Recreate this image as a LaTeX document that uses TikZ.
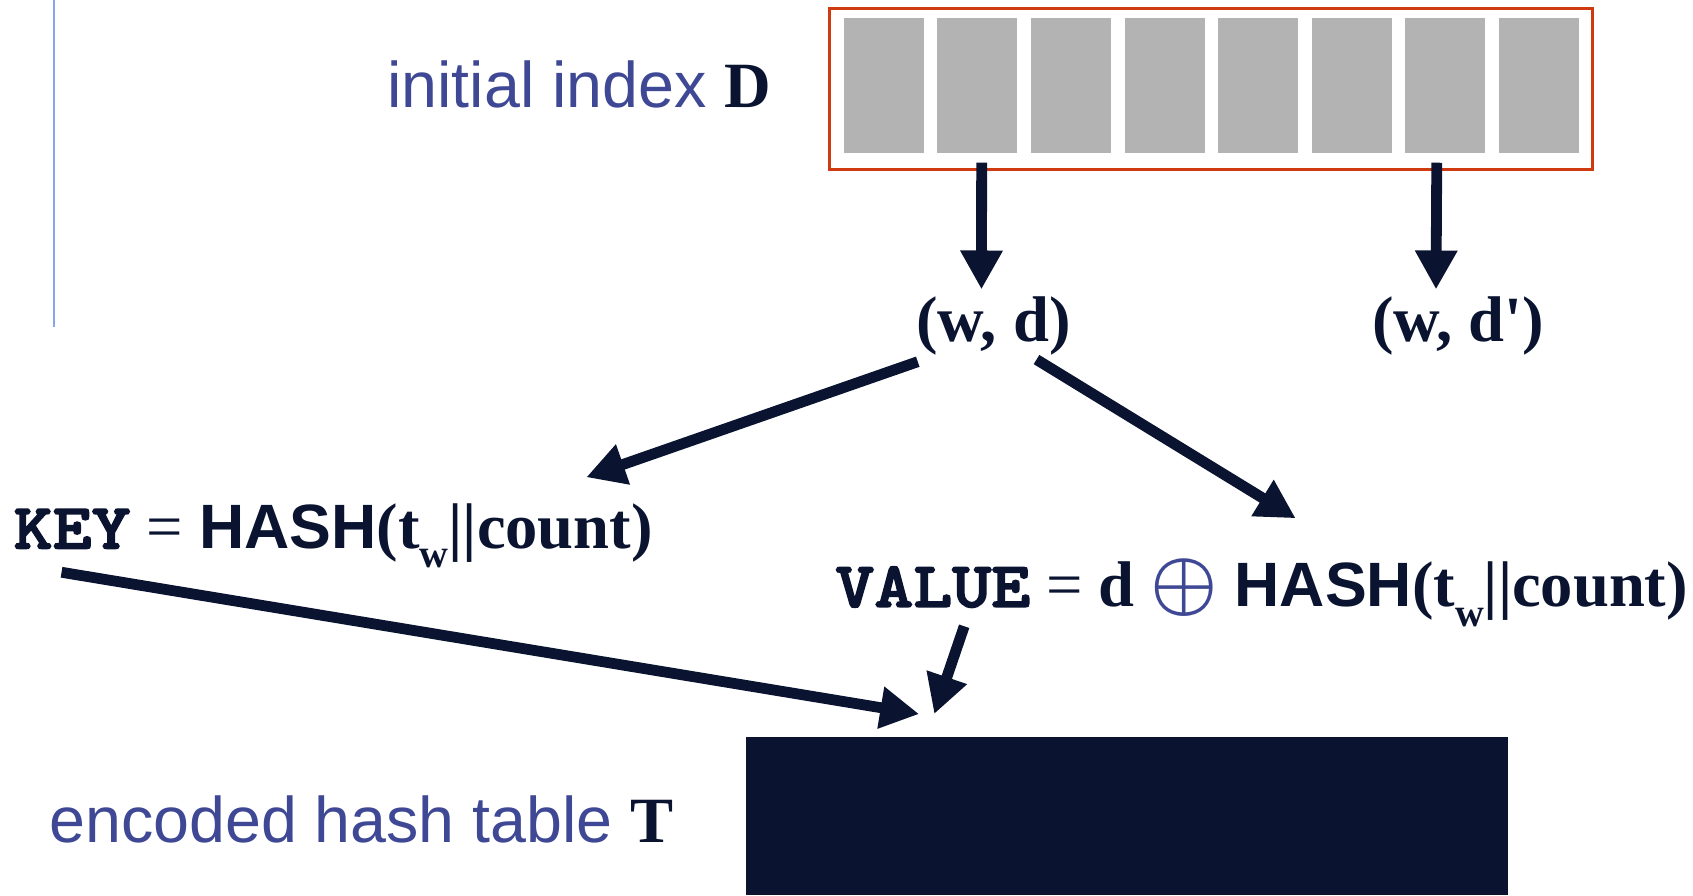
\documentclass[tikz,border=0pt]{standalone}
\usepackage{fontspec}
\setmainfont{Liberation Serif}
\setsansfont{Liberation Sans}
\setmonofont{Liberation Mono}
\newfontfamily\keyfont{lmmonolt10-bold.otf}[FakeStretch=1.15,FakeBold=2.5]
\usetikzlibrary{arrows.meta,calc}
\definecolor{navy}{HTML}{0A1430}
\definecolor{labelblue}{HTML}{3F4894}
\definecolor{framered}{HTML}{D03A10}
\definecolor{barGray}{HTML}{B3B3B3}
\definecolor{railblue}{HTML}{85A5F0}
\newcommand{\subw}{\raisebox{-0.3em}{\fontsize{10.5}{10.5}\selectfont\bfseries w}}
\newcommand{\xorsym}{\textcolor{labelblue}{\scalebox{1.15}{\boldmath$\oplus$}}}
\newcommand{\hashtxt}{{\fontsize{16.5}{20}\selectfont\sffamily\bfseries HASH}}
\begin{document}
\begin{tikzpicture}[x=0.01cm,y=-0.01cm,
  txt/.style={inner sep=0pt,anchor=base west,text=navy,font=\fontsize{17}{20}\selectfont},
  lbl/.style={inner sep=0pt,anchor=base west,text=labelblue,font=\fontsize{17}{20}\selectfont\sffamily},
  bar/.style={fill=barGray,draw=none,inner sep=0pt,minimum width=74*0.01cm,minimum height=125*0.01cm},
  bigarrow/.style={draw=navy,line width=0.1cm,-{Triangle[length=0.36cm,width=0.37cm]}}]
\useasboundingbox (0,0) rectangle (1568,829);
% rail
\draw[railblue,line width=0.6pt] (50,0) coordinate (railtop) -- (50,303) coordinate (railbot);
% index D
\node[lbl] (initlabel) at (358,100) {initial index {\rmfamily\bfseries\color{navy}D}};
\node[draw=framered,line width=0.7pt,inner sep=0pt,minimum width=707*0.01cm,minimum height=149*0.01cm] (dframe) at (1121.5,82.5) {};
\foreach \i in {1,...,8}{
  \node[bar] (bar\i) at ({818.5+86.7*(\i-1)},79.5) {};
}
% pairs
\node[txt,font=\fontsize{17}{20}\selectfont\bfseries] (wd) at (848,316) {(w, d)};
\node[txt,font=\fontsize{17}{20}\selectfont\bfseries] (wdp) at (1270,316) {(w, d\textquotesingle)};
% equations
\node[txt] (keyeq) at (12,508) {{\keyfont KEY} = \hashtxt{\bfseries (t\subw||count)}};
\node[txt] (valeq) at (773,562) {{\keyfont VALUE} = {\bfseries d} \xorsym\ \hashtxt{\bfseries (t\subw||count)}};
% table
\fill[navy] (691,683) rectangle (1397,829);
\node[inner sep=0pt,minimum width=706*0.01cm,minimum height=146*0.01cm] (table) at (1044,756) {};
\node[lbl] (tablelabel) at (45,780) {encoded hash table {\rmfamily\bfseries\color{navy}T}};
% arrows
\draw[bigarrow] ($(bar2.south)+(4,8)$) -- ($(wd.base west)+(61,-48)$);
\draw[bigarrow] ($(bar7.south)+(-8,8)$) -- ($(wdp.base west)+(60,-48)$);
\draw[bigarrow] ($(wd.base west)+(2,19)$) -- ($(keyeq.base west)+(531,-66)$);
\draw[bigarrow] ($(wd.base west)+(112,17)$) -- ($(valeq.base west)+(427,-82)$);
\draw[bigarrow] ($(keyeq.base west)+(45,22)$) -- ($(table.north west)+(161,-21)$);
\draw[bigarrow] ($(valeq.base west)+(120,18)$) -- ($(table.north west)+(175,-21)$);
\end{tikzpicture}
\end{document}
